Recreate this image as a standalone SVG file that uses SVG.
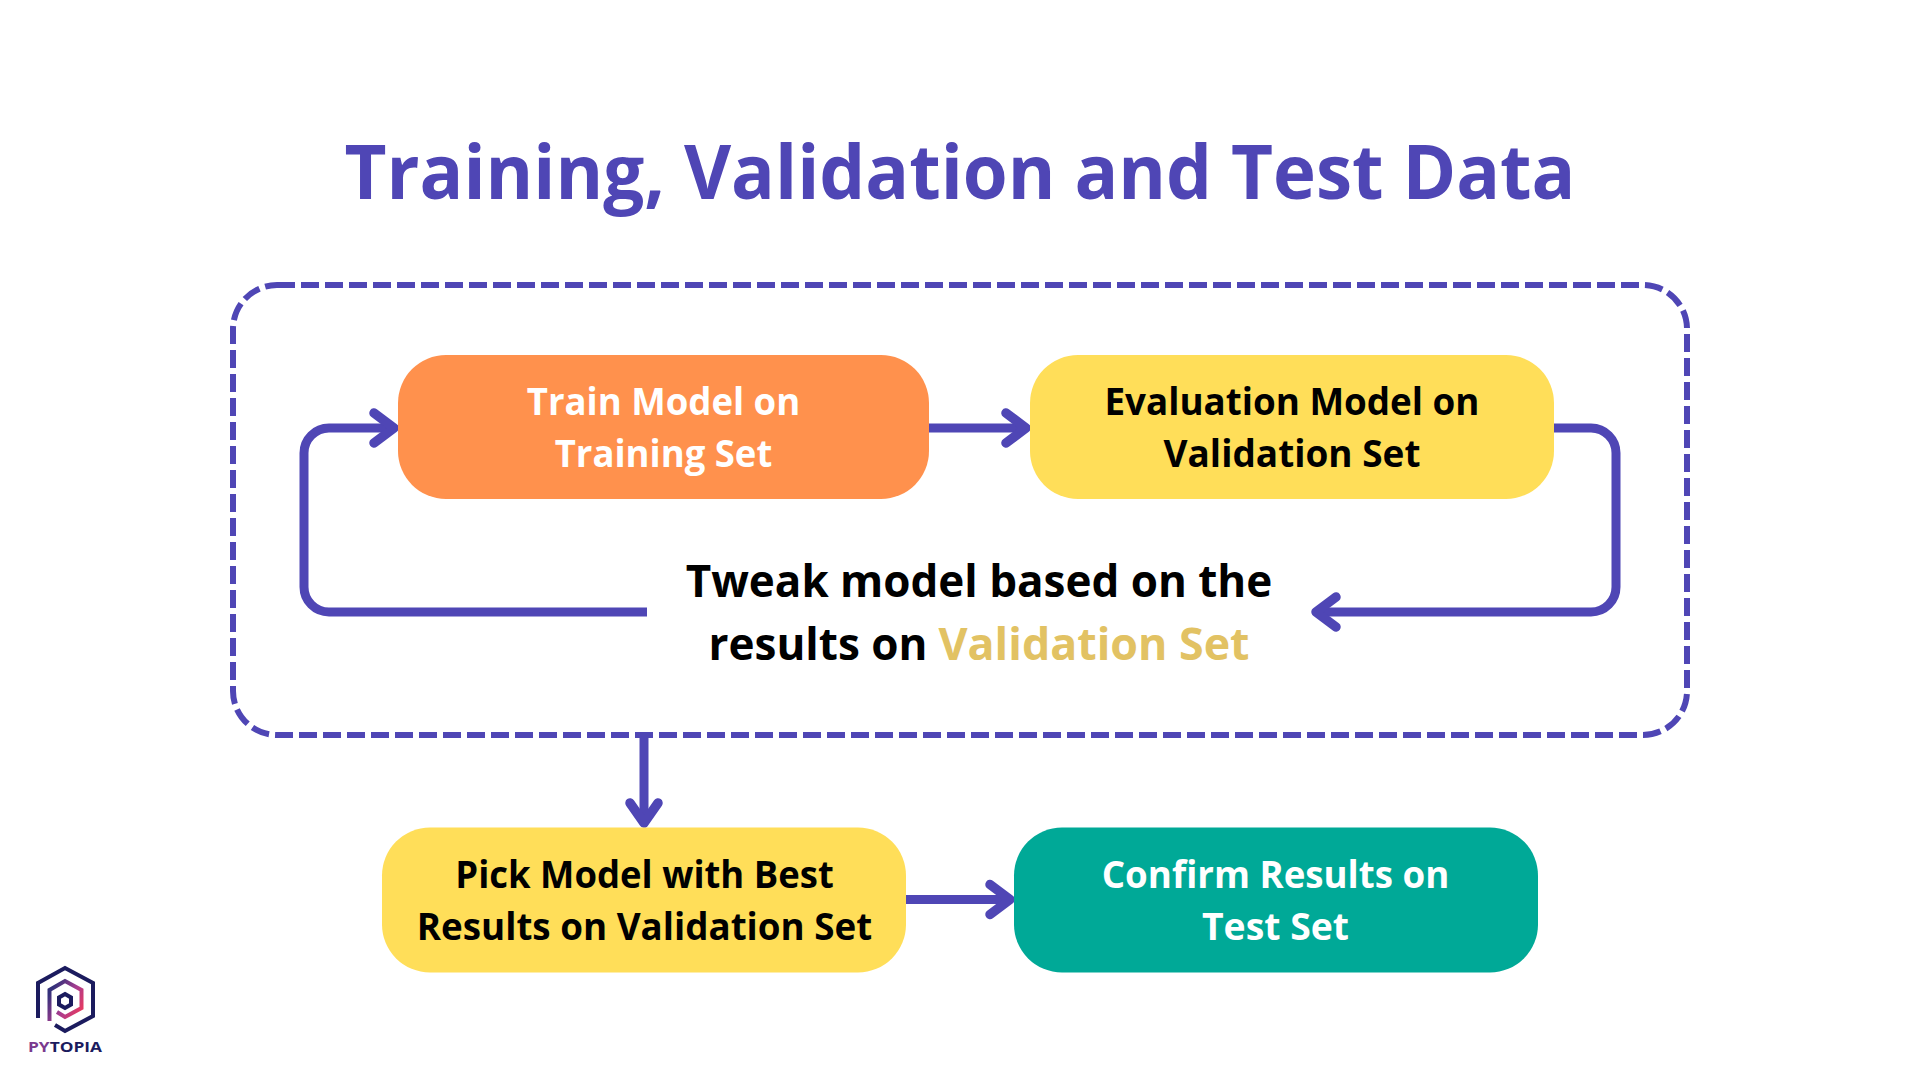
<svg xmlns="http://www.w3.org/2000/svg" width="1920" height="1080" viewBox="0 0 1920 1080">
<defs>
<linearGradient id="lg" x1="0" y1="0.3" x2="0.9" y2="1"><stop offset="0" stop-color="#33307a"/><stop offset="0.5" stop-color="#a83c90"/><stop offset="1" stop-color="#f03a5a"/></linearGradient>
</defs>
<style>
text{font-family:"Open Sans","Noto Sans",sans-serif;font-weight:700;text-anchor:middle}
.t{font-size:37.5px}
.conn{fill:none;stroke:#4f46b5;stroke-width:9}
.head{fill:none;stroke:#4f46b5;stroke-width:9.5;stroke-linecap:round;stroke-linejoin:round}
</style>
<rect width="1920" height="1080" fill="#fff"/>
<text id="title" x="960" y="199" font-size="75.5" fill="#4f46b5" textLength="1231" lengthAdjust="spacingAndGlyphs">Training, Validation and Test Data</text>
<rect id="group" x="233" y="285" width="1454" height="450" rx="44" fill="none" stroke="#4f46b5" stroke-width="6" stroke-dasharray="18 6"/>
<g id="connectors">
<path class="conn" d="M647 612H329a25 25 0 0 1-25-25V453a25 25 0 0 1 25-25H392"/>
<path class="head" d="M374 413L394 428L374 443"/>
<path class="conn" d="M928 428H1024"/>
<path class="head" d="M1006 413L1026 428L1006 443"/>
<path class="conn" d="M1554 428H1591a25 25 0 0 1 25 25V587a25 25 0 0 1-25 25H1318"/>
<path class="head" d="M1336 597L1316 612L1336 627"/>
<path class="conn" d="M644 738V821"/>
<path class="head" d="M630 803L644 823L658 803"/>
<path class="conn" d="M906 899.500H1008"/>
<path class="head" d="M990 884.500L1010 899.500L990 914.500"/>
</g>
<g id="train"><rect x="398" y="355" width="531" height="144" rx="48" fill="#ff914d"/><text class="t" x="663.500" y="415" fill="#fff" textLength="273.500" lengthAdjust="spacingAndGlyphs">Train Model on</text><text class="t" x="663.500" y="467" fill="#fff" textLength="217.500" lengthAdjust="spacingAndGlyphs">Training Set</text></g>
<g id="evaluate"><rect x="1030" y="355" width="524" height="144" rx="48" fill="#ffde59"/><text class="t" x="1292" y="415" fill="#000" textLength="375" lengthAdjust="spacingAndGlyphs">Evaluation Model on</text><text class="t" x="1292" y="467" fill="#000" textLength="257" lengthAdjust="spacingAndGlyphs">Validation Set</text></g>
<g id="tweak"><text x="979" y="597" font-size="44" fill="#000" textLength="586.500" lengthAdjust="spacingAndGlyphs">Tweak model based on the</text><text y="660" font-size="44"><tspan x="818" fill="#000" textLength="219" lengthAdjust="spacingAndGlyphs">results on</tspan><tspan x="1094" fill="#e2c263" textLength="311" lengthAdjust="spacingAndGlyphs">Validation Set</tspan></text></g>
<g id="pick"><rect x="382" y="827.500" width="524" height="145" rx="48" fill="#ffde59"/><text class="t" x="644.500" y="887.500" fill="#000" textLength="378.500" lengthAdjust="spacingAndGlyphs">Pick Model with Best</text><text class="t" x="644.500" y="939.500" fill="#000" textLength="455.500" lengthAdjust="spacingAndGlyphs">Results on Validation Set</text></g>
<g id="confirm"><rect x="1014" y="827.500" width="524" height="145" rx="48" fill="#00a997"/><text class="t" x="1275.500" y="887.500" fill="#fff" textLength="347.500" lengthAdjust="spacingAndGlyphs">Confirm Results on</text><text class="t" x="1275.500" y="939.500" fill="#fff" textLength="147" lengthAdjust="spacingAndGlyphs">Test Set</text></g>
<g id="logo">
<path d="M38 1018V983L65 968L93 983V1016L65 1031L55 1025" fill="none" stroke="#1b1b5e" stroke-width="4"/>
<path d="M49.500 1021V990L65 981L81.500 990V1008L65 1017L57 1012" fill="none" stroke="url(#lg)" stroke-width="4"/>
<path d="M65 994L71 997.500V1004.500L65 1008L59 1004.500V997.500Z" fill="none" stroke="#1b1b5e" stroke-width="4"/>
<text x="65" y="1052" font-size="14" fill="#1b1b5e" textLength="74" lengthAdjust="spacingAndGlyphs"><tspan fill="#7a3a8e">PY</tspan>TOPIA</text>
</g>
</svg>
